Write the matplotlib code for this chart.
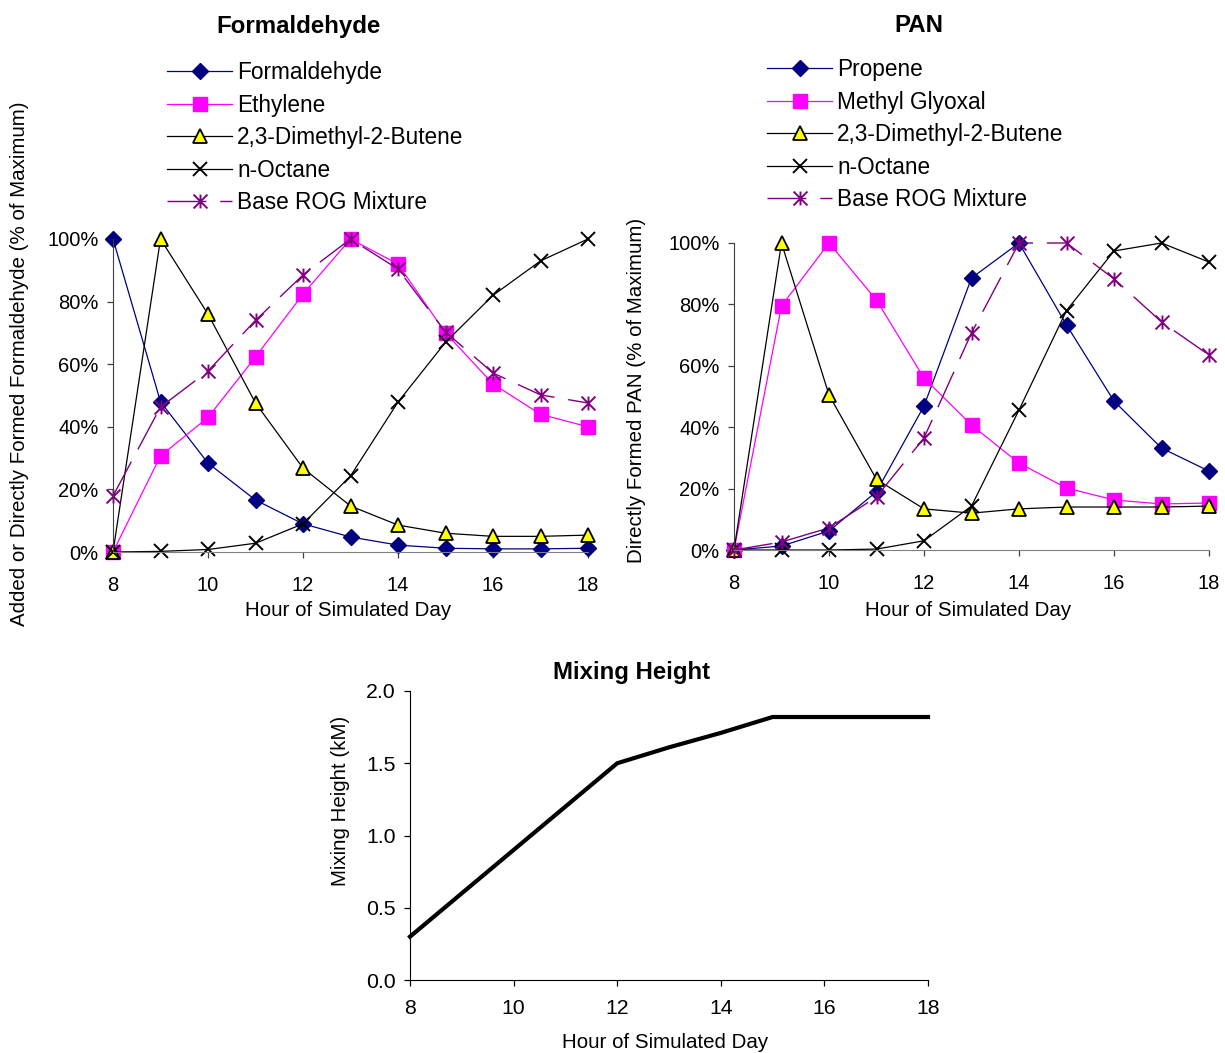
import matplotlib
matplotlib.use("Agg")
import matplotlib.pyplot as plt
from matplotlib.path import Path
from matplotlib.ticker import PercentFormatter

plt.rcParams['font.family'] = ['Liberation Sans', 'DejaVu Sans']

hours = [8, 9, 10, 11, 12, 13, 14, 15, 16, 17, 18]

# Formaldehyde chart (% of maximum)
form_labels = ["Formaldehyde", "Ethylene", "2,3-Dimethyl-2-Butene", "n-Octane", "Base ROG Mixture"]
form_formaldehyde = [100, 48, 28.4, 16.6, 9.0, 4.8, 2.2, 1.2, 1.0, 1.0, 1.2]
form_ethylene = [0, 30.7, 43.0, 62.3, 82.4, 100, 92.0, 70.0, 53.7, 44.0, 40.0]
form_dmb = [0, 100, 76.0, 47.6, 26.8, 14.7, 8.6, 6.0, 5.0, 5.0, 5.4]
form_octane = [0, 0.2, 0.8, 2.8, 9.0, 24.3, 47.9, 67.0, 82.0, 93.0, 100]
form_base = [17.9, 46.3, 57.8, 74.0, 88.5, 100, 90.4, 70.3, 57.2, 50.2, 47.6]

# PAN chart (% of maximum)
pan_labels = ["Propene", "Methyl Glyoxal", "2,3-Dimethyl-2-Butene", "n-Octane", "Base ROG Mixture"]
pan_propene = [0, 1.3, 6.2, 19.0, 46.9, 88.6, 100, 73.3, 48.5, 33.2, 25.7]
pan_mgly = [0, 79.5, 100, 81.4, 56.0, 40.7, 28.3, 20.2, 16.3, 15.0, 15.3]
pan_dmb = [0, 100, 50.5, 23.0, 13.4, 12.0, 13.4, 14.0, 14.0, 14.0, 14.3]
pan_octane = [0, 0, 0, 0.3, 3.0, 14.3, 45.6, 78.0, 97.4, 100, 93.8]
pan_base = [0, 2.6, 7.2, 17.3, 36.5, 70.7, 100, 100, 88.3, 74.3, 63.5]

# Mixing height (km)
mix_height = [0.30, 0.60, 0.90, 1.20, 1.50, 1.61, 1.71, 1.82, 1.82, 1.82, 1.82]

W, H = 1225, 1053
fig = plt.figure(figsize=(W / 100, H / 100), dpi=100)

def rect(x0, x1, ytop, ybot):
    return [x0 / W, 1 - ybot / H, (x1 - x0) / W, (ybot - ytop) / H]

star = Path([(0, -1), (0, 1), (-1, -1), (1, 1), (-1, 1), (1, -1)],
            [Path.MOVETO, Path.LINETO, Path.MOVETO, Path.LINETO, Path.MOVETO, Path.LINETO])

styles = [
    dict(color='#000080', marker='D', markersize=8.5, markerfacecolor='#000080', markeredgecolor='#000080', lw=0.9),
    dict(color='#FF00FF', marker='s', markersize=9.5, markerfacecolor='#FF00FF', markeredgecolor='#FF00FF', lw=0.9),
    dict(color='black', marker='^', markersize=10, markerfacecolor='#FFFF00', markeredgecolor='black', markeredgewidth=1.3, lw=0.9),
    dict(color='black', marker='x', markersize=10, markeredgecolor='black', markeredgewidth=1.4, lw=0.9),
    dict(color='#800080', marker=star, markersize=10, markeredgecolor='#800080', markeredgewidth=1.4, lw=1.0,
         linestyle=(0, (28, 10))),
]

def top_chart(r, series, labels, title, title_x, ylabel, ylab_coords, xlab_coords, leg_anchor):
    ax = fig.add_axes(r)
    for vals, lab, st in zip(series, labels, styles):
        ax.plot(hours, vals, label=lab, clip_on=False, **st)
    ax.set_xlim(8, 18)
    ax.set_ylim(0, 100)
    ax.set_xticks([8, 10, 12, 14, 16, 18])
    ax.set_yticks([0, 20, 40, 60, 80, 100])
    ax.yaxis.set_major_formatter(PercentFormatter(decimals=0))
    for s in ['top', 'right']:
        ax.spines[s].set_visible(False)
    ax.spines['left'].set_color('#404040')
    ax.spines['bottom'].set_color('#808080')
    ax.tick_params(axis='both', labelsize=14.5, length=4.5, width=0.9, color='#404040')
    ax.tick_params(axis='x', pad=12.5)
    ax.tick_params(axis='y', pad=6)
    ax.set_xlabel("Hour of Simulated Day", fontsize=14.8)
    ax.xaxis.set_label_coords(*xlab_coords)
    ax.xaxis.label.set_verticalalignment('center')
    ax.set_ylabel(ylabel, fontsize=14.8)
    ax.yaxis.set_label_coords(*ylab_coords)
    ax.yaxis.label.set_verticalalignment('center')
    fig.text(title_x / W, 1 - 26 / H, title, fontsize=17.3, fontweight='bold', ha='center', va='center')
    ax.legend(loc='upper left', bbox_to_anchor=leg_anchor, bbox_transform=fig.transFigure,
              frameon=False, fontsize=16.3, borderpad=0, borderaxespad=0,
              handlelength=2.88, handletextpad=0.22, labelspacing=0.42, numpoints=1)
    return ax

top_chart(rect(113, 588, 239, 552),
          [form_formaldehyde, form_ethylene, form_dmb, form_octane, form_base], form_labels,
          "Formaldehyde", 299, "Added or Directly Formed Formaldehyde (% of Maximum)",
          ((20 - 113) / 475, (552 - 364) / 313), ((348 - 113) / 475, (552 - 611) / 313),
          (167 / W, 1 - 61 / H))

top_chart(rect(734, 1209, 243, 550),
          [pan_propene, pan_mgly, pan_dmb, pan_octane, pan_base], pan_labels,
          "PAN", 919, "Directly Formed PAN (% of Maximum)",
          ((637 - 734) / 475, (550 - 390) / 307), ((968 - 734) / 475, (550 - 610) / 307),
          (767 / W, 1 - 58 / H))

# Mixing height chart
ax3 = fig.add_axes(rect(410, 928, 691, 980))
ax3.plot(hours, mix_height, color='black', lw=3.0, solid_joinstyle='miter', clip_on=False)
ax3.set_xlim(8, 18)
ax3.set_ylim(0, 2.0)
ax3.set_xticks([8, 10, 12, 14, 16, 18])
ax3.set_yticks([0, 0.5, 1.0, 1.5, 2.0])
ax3.set_yticklabels(["0.0", "0.5", "1.0", "1.5", "2.0"])
for s in ['top', 'right']:
    ax3.spines[s].set_visible(False)
ax3.tick_params(axis='both', labelsize=15.3, length=4.5, width=0.9)
ax3.tick_params(axis='x', pad=9)
ax3.tick_params(axis='y', pad=6)
ax3.set_xlabel("Hour of Simulated Day", fontsize=14.8)
ax3.xaxis.set_label_coords((665 - 410) / 518, (980 - 1042) / 289)
ax3.xaxis.label.set_verticalalignment('center')
ax3.set_ylabel("Mixing Height (kM)", fontsize=14.8)
ax3.yaxis.set_label_coords((340 - 410) / 518, (980 - 801) / 289)
ax3.yaxis.label.set_verticalalignment('center')
fig.text(632 / W, 1 - 672 / H, "Mixing Height", fontsize=17.3, fontweight='bold', ha='center', va='center')

fig.savefig("out.png", dpi=100)
